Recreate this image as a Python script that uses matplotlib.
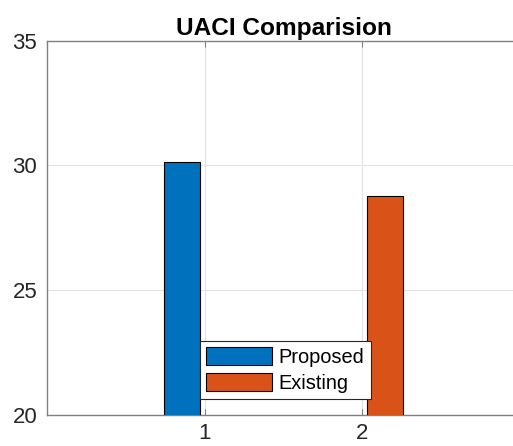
import matplotlib.pyplot as plt

# values
groups = [1, 2]
series = ['Proposed', 'Existing']
values = [30.13, 28.78]
colors = ['#0072BD', '#D95319']
offsets = [-0.143, 0.143]

plt.rcParams['font.family'] = ['Liberation Sans', 'DejaVu Sans']

fig = plt.figure(figsize=(5.13, 4.46), dpi=100)
ax = fig.add_axes([47/513, 31/446, 473/513, 374.3/446])

for i in range(len(series)):
    ax.bar(groups[i] + offsets[i], values[i], width=0.23, bottom=0,
           color=colors[i], edgecolor='black', linewidth=0.8,
           label=series[i], zorder=3)

ax.set_xlim(0, 3)
ax.set_ylim(20, 35)
ax.set_xticks(groups)
ax.set_yticks([20, 25, 30, 35])
ax.grid(True, color='#e2e2e2', linewidth=0.8, zorder=0)
ax.set_axisbelow(True)
ax.tick_params(colors='#808080', labelcolor='#262626', labelsize=16,
               direction='in', length=4, top=True, right=False)
ax.tick_params(axis='y', length=0, pad=7)
ax.tick_params(axis='x', pad=6)
for s in ax.spines.values():
    s.set_color('#808080')
    s.set_linewidth(1.0)
ax.spines['right'].set_visible(False)

ax.set_title('UACI Comparision', fontsize=17.6, fontweight='bold', pad=4)

leg = ax.legend(loc='lower left', bbox_to_anchor=(0.323, 0.043), fontsize=14.4,
                handlelength=3.3, handleheight=1.0, handletextpad=0.35,
                borderpad=0.3, labelspacing=0.3, fancybox=False,
                framealpha=1, edgecolor='#262626', borderaxespad=0)
leg.get_frame().set_linewidth(0.8)

fig.savefig('out.png', dpi=100)
